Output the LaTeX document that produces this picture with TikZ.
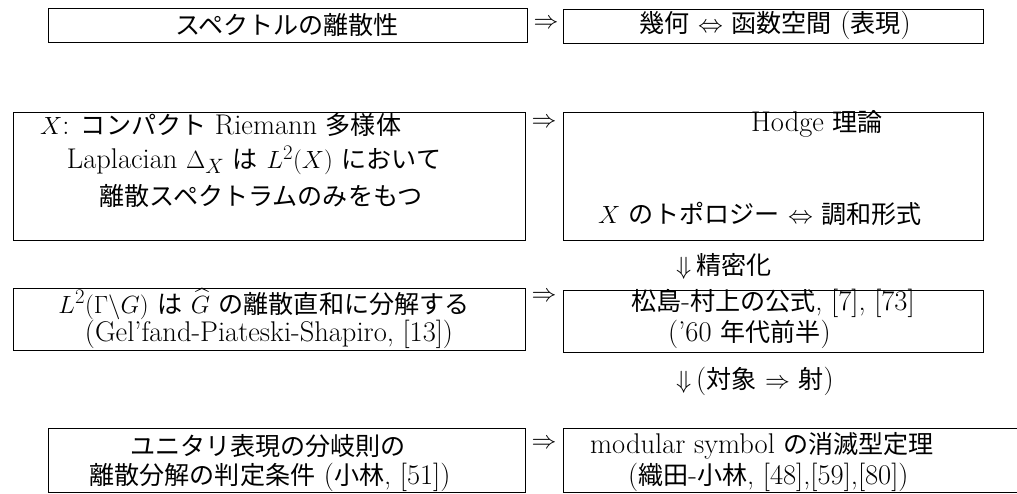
\documentclass[tikz,border=0pt]{standalone}
\usepackage{amsmath}
\usepackage{fontspec}
\newfontfamily\jp[Scale=0.88]{Noto Sans CJK JP}
\newcommand\bigfs{\fontsize{28.5}{33}\selectfont}
\tikzset{
  box/.style={draw, line width=1pt, inner sep=0pt},
  txt/.style={inner sep=0pt, font=\bigfs},
}
\begin{document}
\begin{tikzpicture}[x=1pt,y=-1pt]
\useasboundingbox (0,0) rectangle (1017,493);
\clip (0,0) rectangle (1017,493);
% row 1
\node[box, minimum width=479pt, minimum height=34pt] (b1l) at (287.5,25) {};
\node[box, minimum width=420pt, minimum height=34pt] (b1r) at (773,26) {};
\node[txt] (t1l) at (287,25) {\jp スペクトルの離散性};
\node[txt] (t1r) at (775,25) {{\jp 幾何} $\Leftrightarrow$ {\jp 函数空間} ({\jp 表現})};
\node[txt] (a1) at (546,24) {$\Rightarrow$};
% row 2
\node[box, minimum width=512pt, minimum height=128pt] (b2l) at (269,176) {};
\node[box, minimum width=420pt, minimum height=128pt] (b2r) at (773,176) {};
\node[txt, anchor=west] (t2l1) at (40,125) {$X$: {\jp コンパクト} Riemann {\jp 多様体}};
\node[txt] (t2l2) at (254,160) {Laplacian $\Delta_X$ {\jp は} $L^2(X)$ {\jp において}};
\node[txt] (t2l3) at (261,196) {\jp 離散スペクトラムのみをもつ};
\node[txt] (t2r1) at (817,124) {Hodge {\jp 理論}};
\node[txt] (t2r2) at (760,214) {$X$ {\jp のトポロジー} $\Leftrightarrow$ {\jp 調和形式}};
\node[txt] (a2) at (544,123) {$\Rightarrow$};
\node[txt, anchor=west] (d1) at (676,266) {$\Downarrow$\,{\jp 精密化}};
% row 3
\node[box, minimum width=512pt, minimum height=62pt] (b3l) at (269,319) {};
\node[box, minimum width=420pt, minimum height=62pt] (b3r) at (773,321) {};
\node[txt] (t3l1) at (264,304) {$L^2(\Gamma\backslash G)$ {\jp は} $\widehat{G}$ {\jp の離散直和に分解する}};
\node[txt] (t3l2) at (269,334) {(Gel'fand-Piateski-Shapiro, [13])};
\node[txt] (t3r1) at (773,303) {{\jp 松島}-{\jp 村上の公式}, [7], [73]};
\node[txt, anchor=west] (t3r2) at (668,334) {('60 {\jp 年代前半})};
\node[txt] (a3) at (544,297) {$\Rightarrow$};
\node[txt, anchor=west] (d2) at (676,381) {$\Downarrow$\,({\jp 対象} $\Rightarrow$ {\jp 射})};
% row 4
\node[box, minimum width=477pt, minimum height=64pt] (b4l) at (286.5,460) {};
\node[box, minimum width=460pt, minimum height=64pt] (b4r) at (793,460) {};
\node[txt] (t4l1) at (268,446) {\jp ユニタリ表現の分岐則の};
\node[txt] (t4l2) at (270,477) {{\jp 離散分解の判定条件} ({\jp 小林}, [51])};
\node[txt, anchor=west] (t4r1) at (590,446) {modular symbol {\jp の消滅型定理}};
\node[txt, anchor=west] (t4r2) at (628,477) {({\jp 織田}-{\jp 小林}, [48],[59],[80])};
\node[txt] (a4) at (544,444) {$\Rightarrow$};
\end{tikzpicture}
\end{document}
